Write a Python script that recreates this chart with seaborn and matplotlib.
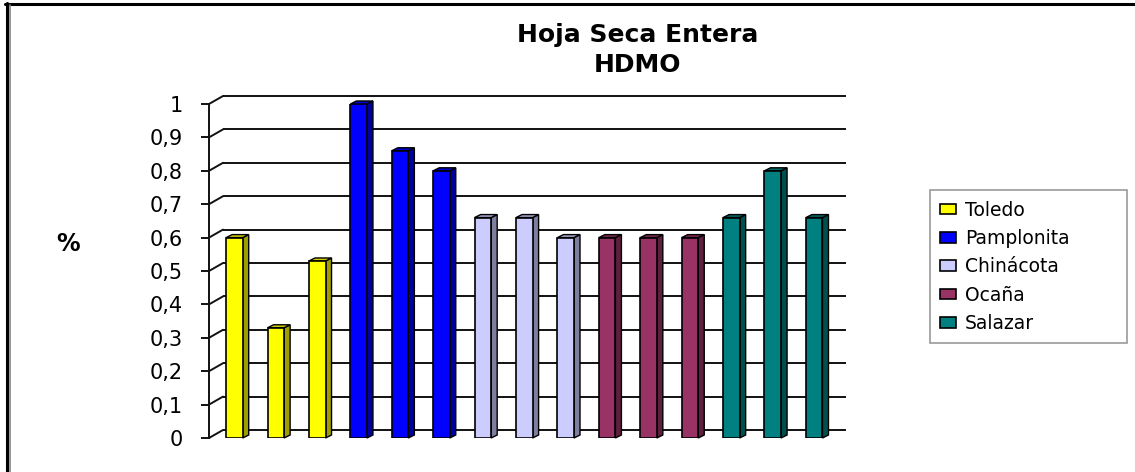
import matplotlib
matplotlib.use("Agg")
import matplotlib.pyplot as plt
import seaborn as sns
import numpy as np
import pandas as pd
from matplotlib.patches import Polygon, Patch
from matplotlib.lines import Line2D
from matplotlib.colors import to_rgb

# data
groups = ['Toledo', 'Pamplonita', 'Chinácota', 'Ocaña', 'Salazar']
toledo = [0.60, 0.33, 0.53]
pamplonita = [1.00, 0.86, 0.80]
chinacota = [0.66, 0.66, 0.60]
ocana = [0.60, 0.60, 0.60]
salazar = [0.66, 0.80, 0.66]
colors = ['#FFFF00', '#0000FF', '#CCCCFF', '#993366', '#008080']
y_ticks = [0, 0.1, 0.2, 0.3, 0.4, 0.5, 0.6, 0.7, 0.8, 0.9, 1.0]
y_labels = ['0', '0,1', '0,2', '0,3', '0,4', '0,5', '0,6', '0,7', '0,8', '0,9', '1']

series = [toledo, pamplonita, chinacota, ocana, salazar]
rows = []
for g, vals in zip(groups, series):
    for j, v in enumerate(vals):
        rows.append({'bar': f'{g}{j}', 'grupo': g, 'valor': v})
df = pd.DataFrame(rows)

sns.set_style('white')
plt.rcParams['font.family'] = ['DejaVu Sans']
plt.rcParams['text.color'] = 'black'
plt.rcParams['axes.labelcolor'] = 'black'
plt.rcParams['ytick.color'] = 'black'

fig = plt.figure(figsize=(11.35, 4.72), dpi=100)
ax = fig.add_axes([209 / 1135, 34 / 472, 623 / 1135, 334 / 472])

sns.barplot(data=df, x='bar', y='valor', hue='grupo', palette=colors,
            saturation=1, dodge=False, width=0.4, edgecolor='black',
            linewidth=1.2, legend=False, ax=ax, zorder=3)

x0, x1 = -0.614, 14.43
ax.set_xlim(x0, x1)
ax.set_ylim(0, 1)

# pixel -> data conversion for the fake 3D depth
px_x = ax.bbox.width / (x1 - x0)
px_y = ax.bbox.height / 1.0
ddx, ddy = 14 / px_x, 8 / px_y     # floor/wall depth
bdx, bdy = 6 / px_x, 3 / px_y      # bar depth

# back wall gridlines + diagonal connectors from the front axis
for v in y_ticks:
    ax.plot([x0 + ddx, x1 + ddx], [v + ddy, v + ddy], color='#111111', lw=1.4,
            zorder=1, clip_on=False, solid_capstyle='butt')
    ax.plot([x0, x0 + ddx], [v, v + ddy], color='#111111', lw=1.4,
            zorder=1, clip_on=False)

# side and top faces of the columns
for p in list(ax.patches):
    x, w, h = p.get_x(), p.get_width(), p.get_height()
    if h <= 0:
        continue
    base = np.array(to_rgb(p.get_facecolor()))
    side = Polygon([(x + w, 0), (x + w + bdx, bdy), (x + w + bdx, h + bdy), (x + w, h)],
                   closed=True, facecolor=base * 0.62, edgecolor='black', lw=1.0,
                   zorder=2.9, clip_on=False)
    top = Polygon([(x, h), (x + bdx, h + bdy), (x + w + bdx, h + bdy), (x + w, h)],
                  closed=True, facecolor=base * 0.8, edgecolor='black', lw=1.0,
                  zorder=2.9, clip_on=False)
    ax.add_patch(side)
    ax.add_patch(top)

for s in ['top', 'right', 'bottom']:
    ax.spines[s].set_visible(False)
ax.spines['left'].set_color('#111111')
ax.spines['left'].set_linewidth(1.4)

ax.set_xticks([])
ax.set_xlabel('')
ax.set_yticks(y_ticks)
ax.set_yticklabels(y_labels, fontsize=15)
ax.tick_params(axis='y', direction='out', length=6, width=1.4, color='#111111',
               labelcolor='black', pad=13, left=True)
ax.set_ylabel('%', rotation=0, fontsize=17, fontweight='bold')
ax.yaxis.set_label_coords(-0.226, 0.545)
ax.patch.set_alpha(0)

fig.suptitle('Hoja Seca Entera\nHDMO', x=638 / 1135, y=1 - 50 / 472, va='center',
             fontsize=18, fontweight='bold', linespacing=1.35, color='black')

handles = [Patch(facecolor=c, edgecolor='black', lw=1.2) for c in colors]
leg = fig.legend(handles, groups, loc='upper left',
                 bbox_to_anchor=(930 / 1135, 1 - 195 / 472, 197 / 1135, 0.01),
                 mode='expand', borderaxespad=0, fontsize=13.5, frameon=True,
                 fancybox=False, handlelength=0.85, handleheight=0.5,
                 handletextpad=0.45, labelspacing=0.5, borderpad=0.55)
leg.get_frame().set_edgecolor('#808080')
leg.get_frame().set_linewidth(1.2)
for t in leg.get_texts():
    t.set_color('black')

# outer frame: thick top line, double line at the left
fig.add_artist(Line2D([5 / 1135, 1], [1 - 3.5 / 472, 1 - 3.5 / 472],
                      transform=fig.transFigure, color='black', lw=2.2))
fig.add_artist(Line2D([6.5 / 1135, 6.5 / 1135], [0, 1 - 3 / 472],
                      transform=fig.transFigure, color='black', lw=2.2))
fig.add_artist(Line2D([9.8 / 1135, 9.8 / 1135], [0, 1 - 5 / 472],
                      transform=fig.transFigure, color='#888888', lw=1.2))

fig.savefig('out.png', dpi=100)
